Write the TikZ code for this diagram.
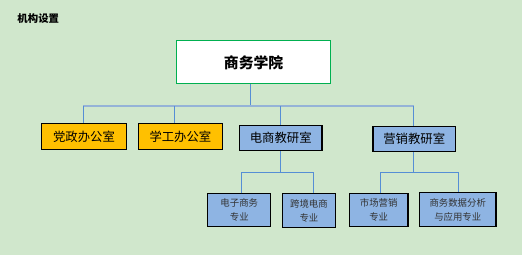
\documentclass[tikz,border=0pt]{standalone}
\usepackage{fontspec}
\setmainfont{Noto Sans CJK SC}
\definecolor{bg}{HTML}{D0E7CC}
\definecolor{orng}{HTML}{FFC000}
\definecolor{lblue}{HTML}{8EB4E3}
\definecolor{conn}{HTML}{558ED5}
\definecolor{busc}{HTML}{95B3D7}
\definecolor{grn}{HTML}{00B050}
\tikzset{
  topbox/.style={draw=grn, line width=1.2pt, fill=white, minimum width=156pt, minimum height=43.5pt, inner sep=0pt, font=\fontsize{15}{17}\selectfont\bfseries},
  l1box/.style={draw=black, line width=1.1pt, minimum height=26pt, inner sep=0pt, font=\fontsize{12.5}{14}\selectfont},
  l2box/.style={draw=black, line width=1.1pt, fill=lblue, minimum height=33pt, inner sep=0pt, align=center, text=black!80, font=\fontsize{9.5}{14}\selectfont},
  cline/.style={draw=conn, line width=0.9pt},
  bline/.style={draw=busc, line width=1.6pt},
}
\begin{document}
\begin{tikzpicture}[x=1pt,y=-1pt]
\fill[bg] (-3,-3) rectangle (525,255);
\useasboundingbox (0,0) rectangle (522,252);
\node[anchor=west, inner sep=0pt, font=\fontsize{10.5}{12}\selectfont\bfseries] (title) at (14.5,16) {机构设置};
\node[topbox] (top) at (253.5,60) {商务学院};
\node[l1box, fill=orng, minimum width=85.4pt] (d1) at (82,135.3) {党政办公室};
\node[l1box, fill=orng, minimum width=84.4pt] (d2) at (179.5,135.3) {学工办公室};
\node[l1box, fill=lblue, minimum width=83.4pt] (d3) at (281,136.5) {电商教研室};
\node[l1box, fill=lblue, minimum width=83.4pt, minimum height=25pt] (d4) at (416,137.8) {营销教研室};
\node[l2box, minimum width=63.4pt] (e1) at (239,209.6) {电子商务\\专业};
\node[l2box, minimum width=54.4pt, minimum height=33.7pt] (e2) at (309.5,210) {跨境电商\\专业};
\node[l2box, minimum width=59.4pt] (e3) at (380,209.6) {市场营销\\专业};
\node[l2box, minimum width=77.4pt, minimum height=33.7pt] (e4) at (460,209) {商务数据分析\\与应用专业};
% level 1 connectors
\coordinate (bus) at (0,104);
\coordinate (p0) at (250.3,0);
\coordinate (p1) at (81,0);
\coordinate (p2) at (173.3,0);
\coordinate (p3) at (280.3,0);
\coordinate (p4) at (415.5,0);
\draw[cline] (p0 |- top.south) -- (p0 |- bus);
\draw[bline] (p1 |- bus) -- (p4 |- bus);
\draw[cline] (p1 |- bus) -- (p1 |- d1.north);
\draw[cline] (p2 |- bus) -- (p2 |- d2.north);
\draw[cline] (p3 |- bus) -- (p3 |- d3.north);
\draw[cline] (p4 |- bus) -- (p4 |- d4.north);
% level 2 connectors
\coordinate (b2) at (0,171.5);
\coordinate (q1) at (241,0);
\coordinate (q2) at (313.7,0);
\coordinate (q3) at (382,0);
\coordinate (q4) at (460.7,0);
\draw[cline] (p3 |- d3.south) -- (p3 |- b2);
\draw[cline] (q1 |- e1.north) -- (q1 |- b2) -- (q2 |- b2) -- (q2 |- e2.north);
\draw[cline] (p4 |- d4.south) -- (p4 |- b2);
\draw[cline] (q3 |- e3.north) -- (q3 |- b2) -- (q4 |- b2) -- (q4 |- e4.north);
\end{tikzpicture}
\end{document}
